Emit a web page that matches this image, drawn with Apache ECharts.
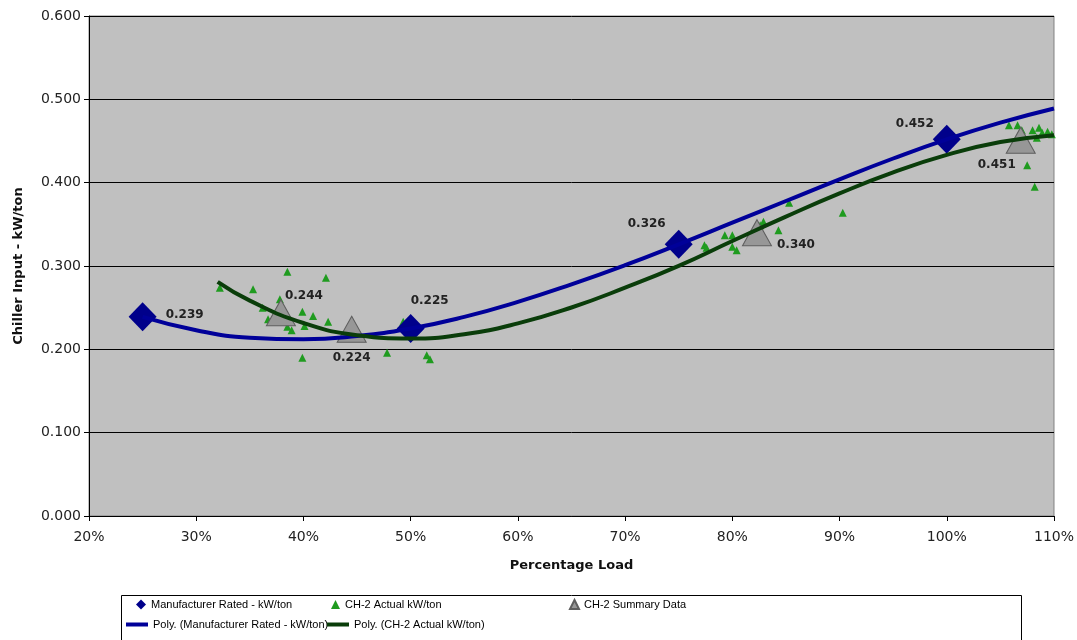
<!DOCTYPE html>
<html>
<head>
<meta charset="utf-8">
<title>Chiller Input vs Percentage Load</title>
<script src="https://cdn.jsdelivr.net/npm/echarts@6/dist/echarts.min.js"></script>
<style>
  html, body { margin: 0; padding: 0; background: #ffffff; }
  #chart { width: 1077px; height: 640px; }
</style>
</head>
<body>
<div id="chart"></div>
<script>
// Manufacturer rated performance (percent load, kW/ton)
const ratedLoad = [25, 50, 75, 100];
const ratedKw = [0.239, 0.225, 0.326, 0.452];

// CH-2 summary points (percent load, kW/ton)
const summaryLoad = [37.9, 44.5, 82.3, 106.9];
const summaryKw = [0.244, 0.224, 0.340, 0.451];

// CH-2 logged readings
const actualLoad = [
  32.2, 35.3, 38.5, 42.1, 37.8, 36.2, 36.7, 39.9, 40.9, 42.3, 38.9, 38.5, 40.1, 39.9,
  47.8, 49.3, 51.5, 51.8,
  77.4, 77.6, 79.3, 80.0, 80.0, 80.4, 82.6, 82.9, 84.3, 85.3, 90.3,
  105.8, 106.6, 107.0, 108.0, 108.6, 108.9, 107.0, 109.4, 108.4, 109.8, 107.5, 108.2
];
const actualKw = [
  0.274, 0.272, 0.293, 0.286, 0.260, 0.250, 0.236, 0.245, 0.240, 0.233, 0.223, 0.227, 0.228, 0.190,
  0.196, 0.233, 0.193, 0.188,
  0.325, 0.322, 0.337, 0.337, 0.323, 0.319, 0.349, 0.353, 0.343, 0.376, 0.364,
  0.469, 0.469, 0.463, 0.463, 0.466, 0.460, 0.455, 0.461, 0.454, 0.458, 0.421, 0.395
];

// Polynomial trendline of the rated curve
const ratedTrendLoad = [25, 30, 35, 40, 45, 50, 55, 60, 65, 70, 75, 80, 85, 90, 95, 100, 105, 110];
const ratedTrendKw = [0.239, 0.223, 0.214, 0.212, 0.216, 0.225, 0.239, 0.257, 0.278, 0.301, 0.326, 0.352, 0.378, 0.404, 0.429, 0.452, 0.472, 0.489];

// Polynomial trendline of the CH-2 readings
const actualTrendLoad = [32, 35, 40, 45, 50, 55, 60, 65, 70, 75, 80, 85, 90, 95, 100, 105, 110];
const actualTrendKw = [0.281, 0.2585, 0.2316, 0.217, 0.213, 0.2182, 0.2311, 0.2502, 0.274, 0.3002, 0.330, 0.3592, 0.3871, 0.4123, 0.4333, 0.4487, 0.457];

// Axis ticks
const loadTicks = { min: 20, max: 110, step: 10 };
const kwTicks = { min: 0, max: 0.6, step: 0.1 };

// Where each value label sits relative to its marker (px)
const ratedLabelOffsets = [[42, -2], [19, -28], [-32, -20], [-32, -15]];
const summaryLabelOffsets = [[23, -17], [0, 29], [39, 12], [-24, 25]];

const NAMES = {
  rated: 'Manufacturer Rated - kW/ton',
  actual: 'CH-2 Actual kW/ton',
  summary: 'CH-2 Summary Data',
  ratedPoly: 'Poly. (Manufacturer Rated - kW/ton)',
  actualPoly: 'Poly. (CH-2 Actual kW/ton)'
};

const zip = (xs, ys) => xs.map((x, i) => [x, ys[i]]);

const valueLabel = {
  show: true,
  position: 'inside',
  fontFamily: 'DejaVu Sans',
  fontWeight: 'bold',
  fontSize: 12,
  color: '#222222',
  formatter: p => p.value[1].toFixed(3)
};

const labelled = (xs, ys, offsets) => xs.map((x, i) => ({
  value: [x, ys[i]],
  label: { offset: offsets[i] }
}));

const legendText = { fontFamily: 'Liberation Sans', fontSize: 11, color: '#000000' };
const legendAt = (name, left, top, icon, w, h) => ({
  data: [name], left: left, top: top, icon: icon,
  itemWidth: w, itemHeight: h, padding: 0,
  textStyle: legendText, selectedMode: false
});

const tickFont = { fontFamily: 'DejaVu Sans', fontSize: 14, color: '#222222' };
const titleFont = { fontFamily: 'DejaVu Sans', fontWeight: 'bold', fontSize: 13, color: '#111111' };

const chart = echarts.init(document.getElementById('chart'));
chart.setOption({
  animation: false,
  backgroundColor: '#ffffff',
  grid: {
    left: 89, right: 22, top: 16, bottom: 124,
    show: true, backgroundColor: '#c0c0c0', borderColor: '#808080', borderWidth: 1
  },
  xAxis: {
    type: 'value',
    min: loadTicks.min, max: loadTicks.max, interval: loadTicks.step,
    name: 'Percentage Load',
    nameLocation: 'middle',
    nameGap: 43,
    nameTextStyle: titleFont,
    axisLine: { show: true, onZero: false, lineStyle: { color: '#000000', width: 1 } },
    axisTick: { show: true, inside: false, length: 5, lineStyle: { color: '#000000' } },
    axisLabel: Object.assign({ formatter: '{value}%', margin: 14 }, tickFont),
    splitLine: { show: false }
  },
  yAxis: {
    type: 'value',
    min: kwTicks.min, max: kwTicks.max, interval: kwTicks.step,
    name: 'Chiller Input - kW/ton',
    nameLocation: 'middle',
    nameGap: 64,
    nameTextStyle: titleFont,
    axisLine: { show: true, onZero: false, lineStyle: { color: '#000000', width: 1 } },
    axisTick: { show: true, inside: false, length: 5, lineStyle: { color: '#000000' } },
    axisLabel: Object.assign({ formatter: v => v.toFixed(3), margin: 8 }, tickFont),
    splitLine: { show: true, lineStyle: { color: '#000000', width: 1 } }
  },
  legend: [
    legendAt(NAMES.rated, 136, 599, 'diamond', 10, 10),
    legendAt(NAMES.actual, 331, 599, 'triangle', 9, 9),
    legendAt(NAMES.summary, 569, 599, 'triangle', 9, 9),
    legendAt(NAMES.ratedPoly, 126, 619, 'rect', 22, 4),
    legendAt(NAMES.actualPoly, 327, 619, 'rect', 22, 4)
  ],
  graphic: [{
    type: 'rect',
    shape: { x: 121.5, y: 595.5, width: 900, height: 60 },
    style: { fill: 'none', stroke: '#000000', lineWidth: 1 },
    silent: true
  }],
  series: [
    {
      name: NAMES.actual,
      type: 'scatter',
      symbol: 'triangle',
      symbolSize: 8,
      itemStyle: { color: '#1f9b1f', opacity: 1 },
      data: zip(actualLoad, actualKw)
    },
    {
      name: NAMES.summary,
      type: 'scatter',
      symbol: 'triangle',
      symbolSize: [29, 26],
      itemStyle: { color: '#979797', borderColor: '#5e5e5e', borderWidth: 1, opacity: 1 },
      label: valueLabel,
      data: labelled(summaryLoad, summaryKw, summaryLabelOffsets)
    },
    {
      name: NAMES.rated,
      type: 'scatter',
      symbol: 'diamond',
      symbolSize: [28, 29],
      itemStyle: { color: '#00008b', opacity: 1 },
      label: valueLabel,
      data: labelled(ratedLoad, ratedKw, ratedLabelOffsets)
    },
    {
      name: NAMES.ratedPoly,
      type: 'line',
      smooth: true,
      showSymbol: false,
      lineStyle: { color: '#000099', width: 4 },
      itemStyle: { color: '#000099' },
      data: zip(ratedTrendLoad, ratedTrendKw)
    },
    {
      name: NAMES.actualPoly,
      type: 'line',
      smooth: true,
      showSymbol: false,
      lineStyle: { color: '#0a3d0a', width: 4 },
      itemStyle: { color: '#0a3d0a' },
      data: zip(actualTrendLoad, actualTrendKw)
    }
  ]
});
</script>
</body>
</html>
